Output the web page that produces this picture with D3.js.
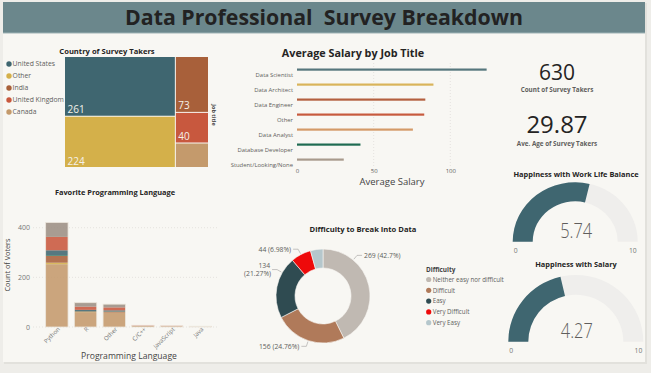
<!DOCTYPE html>
<html>
<head>
<meta charset="utf-8">
<script src="https://cdn.jsdelivr.net/npm/d3@7"></script>
<style>
  html, body { margin: 0; padding: 0; background: #eeede9; }
  svg { display: block; }
  text { font-family: "Open Sans", "DejaVu Sans", sans-serif; }
</style>
</head>
<body>
<svg id="dash" width="651" height="373"></svg>
<script>
// ---------------- DATA ----------------
const dashTitle = "Data Professional\u00a0\u00a0Survey Breakdown";

const countries = ["United States", "Other", "India", "United Kingdom", "Canada"];
const countryCounts = [261, 224, 73, 40, 32];

const jobTitles = ["Data Scientist", "Data Architect", "Data Engineer", "Other", "Data Analyst", "Database Developer", "Student/Looking/None"];
const avgSalary = [123.7, 89, 83.7, 83, 75.6, 41.4, 30.5];
const salaryTicks = [0, 50, 100];

const totalSurveyTakers = 630;
const avgAge = 29.87;

const languages = ["Python", "R", "Other", "C/C++", "JavaScript", "Java"];
// stacked by job title (bottom to top)
const stackOrder = ["Data Analyst", "Data Architect", "Data Engineer", "Database Developer", "Data Scientist", "Other", "Student/Looking/None"];
const votesDataAnalyst      = [253, 60, 57, 4, 3, 2];
const votesDataArchitect    = [6, 1, 1, 0, 0, 0];
const votesDataEngineer     = [27, 2, 4, 1, 1, 0];
const votesDatabaseDev      = [3, 1, 1, 0, 0, 0];
const votesDataScientist    = [20, 5, 4, 0, 0, 0];
const votesOther            = [54, 13, 12, 2, 1, 1];
const votesStudent          = [58, 16, 13, 0, 0, 0];
const voteTicks = [0, 200, 400];

const difficulty = ["Neither easy nor difficult", "Difficult", "Easy", "Very Difficult", "Very Easy"];
const difficultyCounts = [269, 156, 134, 44, 27];
const difficultyPct = ["42.7%", "24.76%", "21.27%", "6.98%", "4.29%"];

const happinessWLB = 5.74;
const happinessSalary = 4.27;
const gaugeMin = 0, gaugeMax = 10;

// ---------------- STYLE ----------------
const palette = {
  teal: "#3f6670", mustard: "#d4b04a", brown: "#a8603a", rust: "#c8583e",
  tan: "#c49a6c", green: "#1f6b52", taupe: "#9c8f84"
};
const countryColors = [palette.teal, palette.mustard, palette.brown, palette.rust, palette.tan];
const jobColor = d3.scaleOrdinal()
  .domain(["Data Scientist", "Data Architect", "Data Engineer", "Other", "Data Analyst", "Database Developer", "Student/Looking/None"])
  .range([palette.teal, palette.mustard, palette.brown, palette.rust, palette.tan, palette.green, palette.taupe]);
const salaryLineColors = ["#56777d", "#d9b45a", "#b4603f", "#c75a3e", "#d49a68", "#1f6b52", "#a89a8c"];
const difficultyColors = ["#c0b9b2", "#b07a5a", "#2f4b51", "#ee0a0a", "#b5c7cc"];
const labelFrac = [0.26, 0.5, 0.745, 0.5, null];

const svg = d3.select("#dash");

// page panel
svg.append("rect").attr("x", 4).attr("y", 3).attr("width", 643).attr("height", 361).attr("fill", "#e2e1dc");
svg.append("rect").attr("x", 3).attr("y", 2).attr("width", 642).attr("height", 360).attr("fill", "#f8f7f3");

// header
svg.append("rect").attr("x", 3).attr("y", 2).attr("width", 642).attr("height", 31).attr("fill", "#6b878c");
svg.append("line").attr("x1", 3).attr("x2", 645).attr("y1", 33).attr("y2", 33).attr("stroke", "#9fb3b6").attr("stroke-width", 1);
svg.append("text").attr("x", 324).attr("y", 25).attr("text-anchor", "middle")
  .attr("font-size", 21.3).attr("font-weight", 700).attr("fill", "#222").text(dashTitle);

// ---------------- TREEMAP ----------------
(function () {
  const g = svg.append("g");
  g.append("text").attr("x", 107).attr("y", 54).attr("text-anchor", "middle")
    .attr("font-size", 7.6).attr("font-weight", 700).attr("fill", "#252423").text("Country of Survey Takers");

  const root = d3.hierarchy({ children: countries.map((c, i) => ({ name: c, value: countryCounts[i], color: countryColors[i] })) })
    .sum(d => d.value || 0).sort((a, b) => b.value - a.value);
  d3.treemap().tile(d3.treemapSquarify.ratio(1.5)).size([143, 110]).paddingInner(1)(root);
  const cell = g.append("g").attr("transform", "translate(65,57)")
    .selectAll("g").data(root.leaves()).join("g");
  cell.append("rect").attr("x", d => d.x0).attr("y", d => d.y0)
    .attr("width", d => d.x1 - d.x0).attr("height", d => d.y1 - d.y0)
    .attr("fill", d => d.data.color);
  cell.filter(d => d.value >= 40).append("text")
    .attr("x", d => d.x0 + 2.5).attr("y", d => d.y1 - 2.5)
    .attr("font-size", 10).attr("fill", "#f4f1ea").text(d => d.value);

  const leg = g.append("g").selectAll("g").data(countries).join("g")
    .attr("transform", (d, i) => `translate(9,${64 + i * 12})`);
  leg.append("circle").attr("r", 2.7).attr("fill", (d, i) => countryColors[i]);
  leg.append("text").attr("x", 3.6).attr("y", 2.3).attr("font-size", 6.8).attr("fill", "#605e5c").text(d => d);

  g.append("text").attr("transform", "translate(212,115) rotate(90)").attr("text-anchor", "middle")
    .attr("font-size", 5.5).attr("font-weight", 700).attr("fill", "#444").text("Job title");
})();

// ---------------- SALARY BY JOB TITLE ----------------
(function () {
  const g = svg.append("g");
  g.append("text").attr("x", 353).attr("y", 57).attr("text-anchor", "middle")
    .attr("font-size", 10.8).attr("font-weight", 700).attr("fill", "#252423").text("Average Salary by Job Title");

  const x = d3.scaleLinear().domain([0, 130]).range([297, 297 + 130 * 1.533]);
  const y = d3.scaleBand().domain(jobTitles).range([63, 168]);

  g.selectAll("line.grid").data(salaryTicks.slice(1)).join("line").attr("class", "grid")
    .attr("x1", d => x(d)).attr("x2", d => x(d)).attr("y1", 63).attr("y2", 166)
    .attr("stroke", "#dcdad5").attr("stroke-width", 0.7).attr("stroke-dasharray", "1,2");

  g.selectAll("rect.bar").data(jobTitles).join("rect").attr("class", "bar")
    .attr("x", x(0)).attr("y", d => y(d) + y.bandwidth() / 2 - 2)
    .attr("width", (d, i) => x(avgSalary[i]) - x(0)).attr("height", 2.2)
    .attr("fill", (d, i) => salaryLineColors[i]);

  const yAxis = g.append("g").attr("transform", `translate(${x(0) - 4},0)`)
    .call(d3.axisLeft(y).tickSize(0).tickPadding(0));
  yAxis.select(".domain").remove();
  yAxis.selectAll("text").attr("dy", "0.32em").attr("y", 4.5)
    .attr("font-size", 5.9).attr("fill", "#605e5c").attr("font-family", null);

  const xAxis = g.append("g").attr("transform", "translate(0,166)")
    .call(d3.axisBottom(x).tickValues(salaryTicks).tickSize(0).tickPadding(3));
  xAxis.select(".domain").remove();
  xAxis.selectAll("text").attr("font-size", 6).attr("fill", "#605e5c").attr("font-family", null);

  g.append("text").attr("x", 392).attr("y", 184.5).attr("text-anchor", "middle")
    .attr("font-size", 9.5).attr("fill", "#444").text("Average Salary");
})();

// ---------------- KPI CARDS ----------------
(function () {
  const g = svg.append("g");
  g.append("text").attr("x", 557).attr("y", 80).attr("text-anchor", "middle")
    .attr("font-size", 21).attr("fill", "#252423").text(d3.format("d")(totalSurveyTakers));
  g.append("text").attr("x", 557).attr("y", 91.5).attr("text-anchor", "middle")
    .attr("font-size", 6.3).attr("font-weight", 700).attr("fill", "#605e5c").text("Count of Survey Takers");
  g.append("text").attr("x", 557).attr("y", 132.5).attr("text-anchor", "middle")
    .attr("font-size", 24).attr("fill", "#252423").text(d3.format(".2f")(avgAge));
  g.append("text").attr("x", 557).attr("y", 146.3).attr("text-anchor", "middle")
    .attr("font-size", 6.3).attr("font-weight", 700).attr("fill", "#605e5c").text("Ave. Age of Survey Takers");
})();

// ---------------- FAVORITE PROGRAMMING LANGUAGE ----------------
(function () {
  const g = svg.append("g");
  g.append("text").attr("x", 115).attr("y", 195).attr("text-anchor", "middle")
    .attr("font-size", 7.4).attr("font-weight", 700).attr("fill", "#252423").text("Favorite Programming Language");

  const series = [votesDataAnalyst, votesDataArchitect, votesDataEngineer, votesDatabaseDev, votesDataScientist, votesOther, votesStudent];
  const rows = languages.map((l, i) => {
    const r = { lang: l };
    stackOrder.forEach((s, k) => r[s] = series[k][i]);
    return r;
  });
  const stacked = d3.stack().keys(stackOrder)(rows);

  const x = d3.scaleBand().domain(languages).range([42.5, 42.5 + 6 * 28.7]).paddingInner(0.22).paddingOuter(0.11);
  const y = d3.scaleLinear().domain([0, 400]).range([327, 227.7]);

  g.selectAll("line.grid").data(voteTicks).join("line").attr("class", "grid")
    .attr("x1", 33).attr("x2", 219).attr("y1", d => y(d)).attr("y2", d => y(d))
    .attr("stroke", "#dcdad5").attr("stroke-width", 0.7).attr("stroke-dasharray", "1,2");

  const yAxis = g.append("g").attr("transform", "translate(30,0)")
    .call(d3.axisLeft(y).tickValues(voteTicks).tickSize(0).tickPadding(0));
  yAxis.select(".domain").remove();
  yAxis.selectAll("text").attr("font-size", 7).attr("fill", "#777").attr("font-family", null);

  g.selectAll("g.layer").data(stacked).join("g").attr("class", "layer")
    .attr("fill", d => jobColor(d.key))
    .selectAll("rect").data(d => d).join("rect")
    .attr("x", d => x(d.data.lang)).attr("width", x.bandwidth())
    .attr("y", d => y(d[1])).attr("height", d => y(d[0]) - y(d[1]))
    .attr("fill-opacity", 0.88);
  g.selectAll("rect.outline").data(languages).join("rect").attr("class", "outline")
    .attr("x", d => x(d)).attr("width", x.bandwidth())
    .attr("y", (d, i) => y(d3.sum(series, s => s[i])))
    .attr("height", (d, i) => y(0) - y(d3.sum(series, s => s[i])))
    .attr("fill", "none").attr("stroke", "#ece6dc").attr("stroke-width", 0.8);

  const xAxis = g.append("g").attr("transform", "translate(0,329)")
    .call(d3.axisBottom(x).tickSize(0).tickPadding(0));
  xAxis.select(".domain").remove();
  xAxis.selectAll("text").attr("text-anchor", "end").attr("dy", 0).attr("y", 3).attr("x", 2)
    .attr("transform", "rotate(-45)").attr("font-size", 6).attr("fill", "#777").attr("font-family", null);

  g.append("text").attr("transform", "translate(10,265) rotate(-90)").attr("text-anchor", "middle")
    .attr("font-size", 7.3).attr("fill", "#444").text("Count of Voters");
  g.append("text").attr("x", 129).attr("y", 358.5).attr("text-anchor", "middle")
    .attr("font-size", 8.6).attr("fill", "#444").text("Programming Language");
})();

// ---------------- DIFFICULTY DONUT ----------------
(function () {
  const g = svg.append("g");
  g.append("text").attr("x", 363).attr("y", 231.5).attr("text-anchor", "middle")
    .attr("font-size", 7.6).attr("font-weight", 700).attr("fill", "#252423").text("Difficulty to Break Into Data");

  const cx = 323, cy = 296, rOut = 47, rIn = 28;
  const pie = d3.pie().sort(null).value(d => d)(difficultyCounts);
  const arc = d3.arc().innerRadius(rIn).outerRadius(rOut);
  const dg = g.append("g").attr("transform", `translate(${cx},${cy})`);
  dg.selectAll("path").data(pie).join("path").attr("d", arc)
    .attr("fill", (d, i) => difficultyColors[i]).attr("stroke", "#f8f7f3").attr("stroke-width", 0.6);

  pie.forEach((p, i) => {
    if (labelFrac[i] == null) return;
    const a = p.startAngle + (p.endAngle - p.startAngle) * labelFrac[i];
    const pt = r => [Math.sin(a) * r, -Math.cos(a) * r];
    const p1 = pt(rOut + 1), p2 = pt(rOut + 6);
    const right = Math.sin(a) > 0;
    const p3 = [p2[0] + (right ? 5 : -5), p2[1]];
    dg.append("polyline").attr("points", [p1, p2, p3].map(q => q.join(",")).join(" "))
      .attr("fill", "none").attr("stroke", "#a19f9d").attr("stroke-width", 0.6);
    const tx = p3[0] + (right ? 2 : -2);
    const t = dg.append("text").attr("text-anchor", right ? "start" : "end")
      .attr("font-size", 6.8).attr("fill", "#605e5c");
    const label = `${difficultyCounts[i]} (${difficultyPct[i]})`;
    if (i === 2) {
      t.append("tspan").attr("x", tx).attr("y", p3[1] - 1.8).text(difficultyCounts[i]);
      t.append("tspan").attr("x", tx + 1).attr("y", p3[1] + 6.4).text(`(${difficultyPct[i]})`);
    } else {
      t.attr("x", tx).attr("y", p3[1] + 2.4).text(label);
    }
  });

  const lg = g.append("g").attr("transform", "translate(426,0)");
  lg.append("text").attr("x", 0).attr("y", 271.5).attr("font-size", 6.4).attr("font-weight", 700)
    .attr("fill", "#444").text("Difficulty");
  const it = lg.selectAll("g").data(difficulty).join("g")
    .attr("transform", (d, i) => `translate(2.7,${279.5 + i * 10.8})`);
  it.append("circle").attr("r", 2.6).attr("fill", (d, i) => difficultyColors[i]);
  it.append("text").attr("x", 4).attr("y", 2.2).attr("font-size", 6.2).attr("fill", "#605e5c").text(d => d);
})();

// ---------------- GAUGES ----------------
function gauge(value, title, titleY, cx, cy, rx, ry, thick) {
  const g = svg.append("g");
  g.append("text").attr("x", 576).attr("y", titleY).attr("text-anchor", "middle")
    .attr("font-size", 7.4).attr("font-weight", 700).attr("fill", "#252423").text(title);
  const ang = d3.scaleLinear().domain([gaugeMin, gaugeMax]).range([-Math.PI / 2, Math.PI / 2]);
  const arc = d3.arc().innerRadius(rx - thick).outerRadius(rx);
  const ag = g.append("g").attr("transform", `translate(${cx},${cy}) scale(1,${ry / rx})`);
  ag.append("path").attr("d", arc({ startAngle: ang(gaugeMin), endAngle: ang(gaugeMax) })).attr("fill", "#efeeec");
  ag.append("path").attr("d", arc({ startAngle: ang(gaugeMin), endAngle: ang(value) })).attr("fill", "#3f6670");
  g.append("text").attr("transform", `translate(${cx + 1},${cy - 4}) scale(0.8,1)`).attr("text-anchor", "middle")
    .attr("font-family", "Roboto, sans-serif").attr("font-weight", 300)
    .attr("font-size", 20.5).attr("fill", "#605e5c").text(d3.format(".2f")(value));
  g.append("text").attr("x", cx - rx + 1).attr("y", cy + 11).attr("font-size", 6.8).attr("fill", "#777").text(gaugeMin);
  g.append("text").attr("x", cx + rx - 1).attr("y", cy + 11).attr("text-anchor", "end").attr("font-size", 6.8).attr("fill", "#777").text(gaugeMax);
}
gauge(happinessWLB, "Happiness with Work Life Balance", 176.5, 575.2, 241.7, 62.5, 59.4, 20);
gauge(happinessSalary, "Happiness with Salary", 267, 575.8, 341.7, 67.5, 66.7, 20);
</script>
</body>
</html>
